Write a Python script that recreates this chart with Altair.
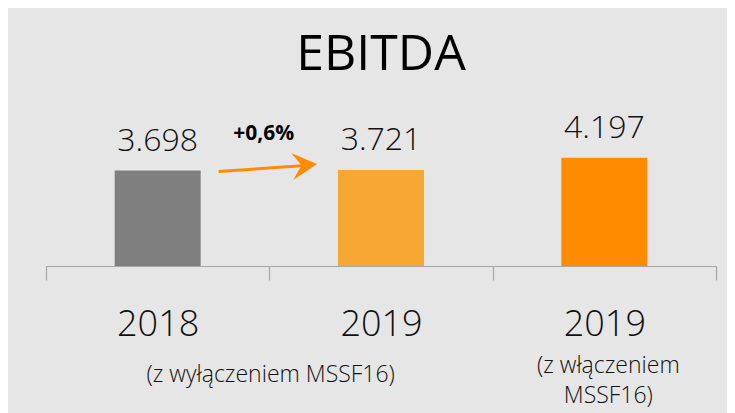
import altair as alt
import pandas as pd

# ---- data ----
categories = ["2018", "2019", "2019 MSSF16"]
year_labels = ["2018", "2019", "2019"]
values = [3698, 3721, 4197]
bar_colors = ["#7F7F7F", "#F7A833", "#FF8C00"]
change_label = "+0,6%"
sub_label_excl = "(z wyłączeniem MSSF16)"
sub_label_incl = "(z włączeniem\nMSSF16)"
title_text = "EBITDA"

ORANGE = "#FF8C00"
TEXT = "#111111"
FONT = "Open Sans"

bars_df = pd.DataFrame({
    "cat": categories,
    "value": values,
    "label": [f"{v:,}".replace(",", ".") for v in values],
})
arrow_df = pd.DataFrame({
    "from": [categories[0]], "to": [categories[1]],
    "v1": [values[0]], "v2": [values[1]], "label": [change_label],
})
sub1_df = pd.DataFrame({"cat": [categories[0]], "zero": [0], "text": [sub_label_excl]})
sub2_df = pd.DataFrame({"cat": [categories[2]], "zero": [0], "text": [sub_label_incl]})

label_expr = " : ".join(
    [f"datum.value == '{c}' ? '{l}'" for c, l in zip(categories, year_labels)] + ["datum.value"]
)

xscale = alt.Scale(domain=categories, paddingInner=0, paddingOuter=0)
yscale = alt.Scale(domain=[0, 5000], nice=False, zero=True)

xaxis = alt.Axis(
    title=None, labelExpr=label_expr, labelAngle=0, labelFont=FONT, labelFontSize=36,
    labelFontWeight=300, labelColor=TEXT, labelBaseline="alphabetic", labelPadding=55,
    tickSize=14, tickBand="extent", tickColor="#A6A6A6", tickWidth=1.2,
    domainColor="#A6A6A6", domainWidth=1.2, grid=False,
)


def xenc(field):
    return alt.X(field, scale=xscale, axis=xaxis, sort=None)


def yenc(field):
    return alt.Y(field, scale=yscale, axis=None)


bars = alt.Chart(bars_df).mark_bar(width=alt.RelativeBandSize(0.385)).encode(
    x=xenc("cat:N"),
    y=yenc("value:Q"),
    color=alt.Color("cat:N", scale=alt.Scale(domain=categories, range=bar_colors), legend=None),
)

value_text = alt.Chart(bars_df).mark_text(
    font=FONT, fontSize=32, fontWeight=300, color=TEXT, baseline="alphabetic", dy=-20,
).encode(
    x=xenc("cat:N"),
    y=yenc("value:Q"),
    text="label:N",
)

arrow_line = alt.Chart(arrow_df).mark_rule(
    color=ORANGE, strokeWidth=3, xOffset=61, x2Offset=-76, yOffset=1, y2Offset=-4.5,
).encode(
    x=xenc("from:N"),
    x2="to:N",
    y=yenc("v1:Q"),
    y2="v2:Q",
)

arrow_head = alt.Chart(arrow_df).mark_point(
    shape="M 0 0 L -1 -0.52 L -0.62 0 L -1 0.56 Z", filled=True, size=2500, angle=355.3,
    color=ORANGE, opacity=1, xOffset=-64, yOffset=-6,
).encode(
    x=xenc("to:N"),
    y=yenc("v2:Q"),
)

change_text = alt.Chart(arrow_df).mark_text(
    font=FONT, fontSize=21, fontWeight="bold", color="#000000", baseline="alphabetic",
    dx=106, dy=-31,
).encode(
    x=xenc("from:N"),
    y=yenc("v1:Q"),
    text="label:N",
)

sub1 = alt.Chart(sub1_df).mark_text(
    font=FONT, fontSize=23, fontWeight=300, color=TEXT, baseline="alphabetic", dx=113, dy=116,
).encode(
    x=xenc("cat:N"),
    y=yenc("zero:Q"),
    text="text:N",
)

sub2 = alt.Chart(sub2_df).mark_text(
    font=FONT, fontSize=23, fontWeight=300, color=TEXT, baseline="alphabetic", dx=4, dy=107,
    lineBreak="\n", lineHeight=30,
).encode(
    x=xenc("cat:N"),
    y=yenc("zero:Q"),
    text="text:N",
)

chart = alt.layer(bars, value_text, arrow_line, arrow_head, change_text, sub1, sub2).properties(
    width=670,
    height=129,
    padding={"left": 38, "top": 129, "right": 11, "bottom": 147},
    autosize=alt.AutoSizeParams(type="none"),
    background="#E6E6E6",
    title=alt.TitleParams(
        title_text, font=FONT, fontSize=50, fontWeight="normal", color="#000000",
        anchor="middle", baseline="alphabetic", offset=-8,
    ),
).configure_view(stroke=None)

chart.save("out.html", embed_options={"renderer": "svg", "actions": False})
